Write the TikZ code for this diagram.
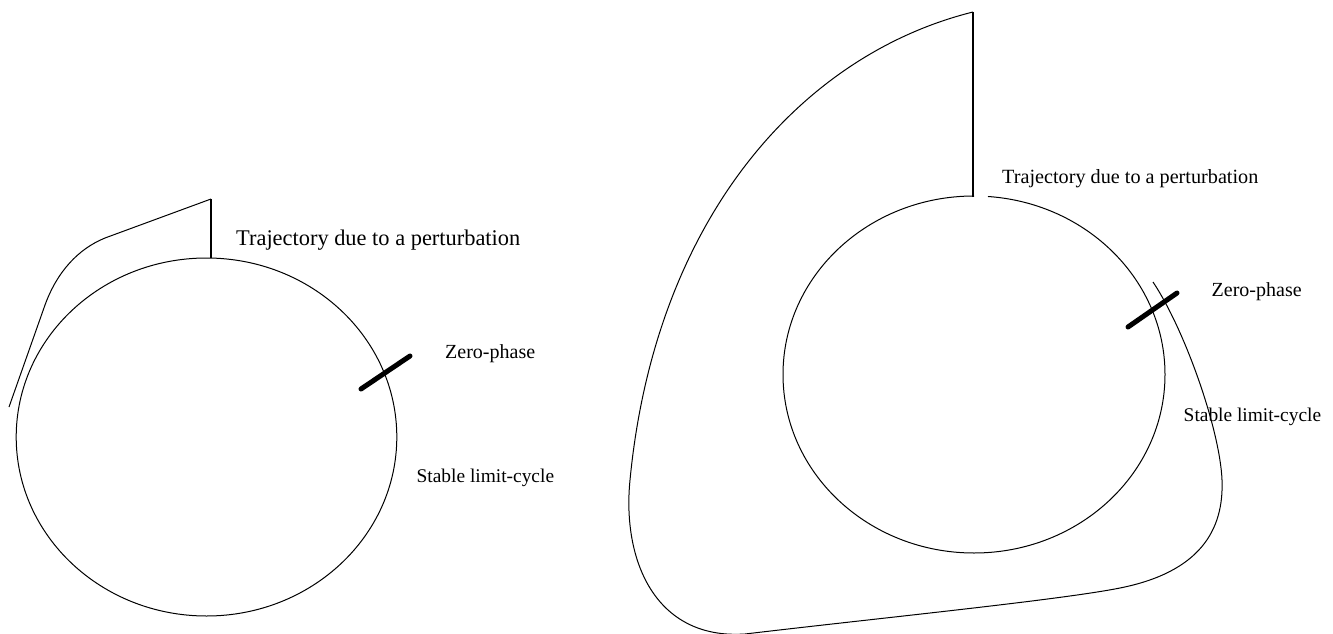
\documentclass[tikz,border=0pt]{standalone}
\usepackage{fontspec}
\setmainfont{Liberation Serif}
\begin{document}
\begin{tikzpicture}[x=1pt,y=-1pt,
  curve/.style={draw=black,line width=1pt},
  stem/.style={draw=black,line width=1.4pt},
  zerobar/.style={draw=black,line width=5pt,line cap=round},
  lbl/.style={anchor=base west,inner sep=0pt,font=\fontsize{20}{24}\selectfont},
  lblS/.style={anchor=base west,inner sep=0pt,font=\fontsize{19.4}{24}\selectfont},
  lblTL/.style={anchor=base west,inner sep=0pt,font=\fontsize{22.4}{26}\selectfont},
  lblTR/.style={anchor=base west,inner sep=0pt,font=\fontsize{20.2}{24}\selectfont}]
\useasboundingbox (0,0) rectangle (1333,634);
% ---------- left diagram ----------
\draw[curve] (206.5,437) ellipse [x radius=190.3pt, y radius=179pt];
\coordinate (Ltop) at (211,258);
\coordinate (Lstart) at (211,199);
\draw[stem] (Ltop) -- (Lstart);
\draw[curve] (Lstart) -- (105,238) .. controls (78,249) and (57,272) .. (45,305) -- (9,407);
\coordinate (Lz1) at (361,389);
\coordinate (Lz2) at (410,356);
\draw[zerobar] (Lz1) -- (Lz2);
\node[lblTL] (Ltraj) at (236,245) {Trajectory due to a perturbation};
\node[lbl] (Lzero) at (445,358) {Zero-phase};
\node[lblS] (Lstab) at (416.5,482.5) {Stable limit-cycle};
% ---------- right diagram ----------
\draw[curve] (974,196) arc[start angle=90, end angle=445.8, x radius=191pt, y radius=178.5pt];
\coordinate (Rtop) at (973,197);
\coordinate (Rstart) at (973,12);
\draw[stem] (Rtop) -- (Rstart);
\draw[curve] (Rstart) .. controls (800,55) and (655,220) .. (630,480)
  .. controls (622,560) and (655,640) .. (745,634)
  .. controls (880,618) and (1060,600) .. (1120,588)
  .. controls (1200,572) and (1224,530) .. (1222,480)
  .. controls (1220,430) and (1185,330) .. (1153,282);
\coordinate (Rz1) at (1128,327);
\coordinate (Rz2) at (1177,293);
\draw[zerobar] (Rz1) -- (Rz2);
\node[lblTR] (Rtraj) at (1002,183.5) {Trajectory due to a perturbation};
\node[lbl] (Rzero) at (1211.5,296) {Zero-phase};
\node[lblS] (Rstab) at (1183.5,421) {Stable limit-cycle};
\end{tikzpicture}
\end{document}
